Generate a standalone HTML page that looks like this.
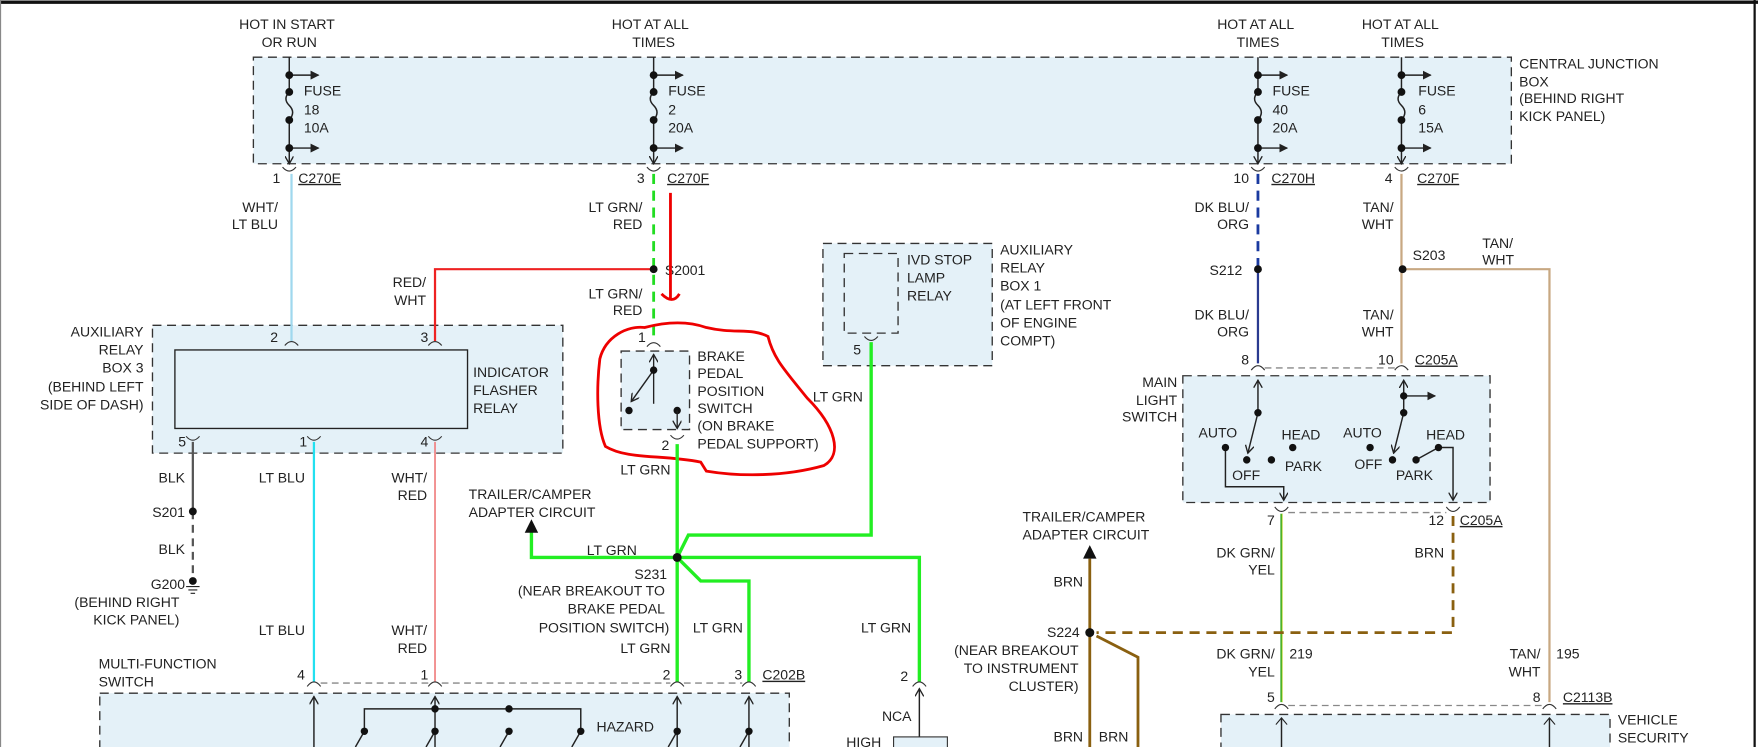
<!DOCTYPE html>
<html><head><meta charset="utf-8"><style>
html,body{margin:0;padding:0;background:#fff;}
svg{display:block;}
text{font-family:"Liberation Sans",sans-serif;font-size:12.5px;fill:#222;}
.r{text-anchor:end;}
</style></head><body>
<svg width="1758" height="747" viewBox="0 0 1568 666" preserveAspectRatio="none" xmlns="http://www.w3.org/2000/svg">
<defs>
<marker id="ah" markerWidth="8" markerHeight="8" refX="7" refY="4" orient="auto" markerUnits="userSpaceOnUse"><path d="M0,0 L7,4 L0,8" fill="none" stroke="#222" stroke-width="1.2"/></marker>
<marker id="af" markerWidth="8" markerHeight="8" refX="7" refY="4" orient="auto" markerUnits="userSpaceOnUse"><path d="M0,0 L8,4 L0,8 Z" fill="#222"/></marker>
</defs>
<rect width="1568" height="666" fill="#fff"/>
<line x1="0" y1="2" x2="1568" y2="2" stroke="#111" stroke-width="3"/>
<line x1="1565" y1="0" x2="1565" y2="666" stroke="#111" stroke-width="2"/>
<line x1="0.5" y1="0" x2="0.5" y2="666" stroke="#888" stroke-width="1"/>

<g fill="#e4f1f8" stroke="#333" stroke-width="1.2" stroke-dasharray="8,5">
<rect x="226" y="51" width="1122" height="95"/>
<rect x="136" y="290" width="366" height="114"/>
<rect x="554" y="313" width="61" height="70"/>
<rect x="734" y="217" width="151" height="109"/>
<rect x="753" y="226" width="48" height="71"/>
<rect x="1055" y="335" width="274" height="113"/>
<rect x="89" y="618" width="615" height="60"/>
<rect x="1089" y="637" width="347" height="40"/>
</g>
<rect x="156" y="312" width="261" height="70" fill="#e4f1f8" stroke="#222" stroke-width="1.2"/>

<text x="256" y="26" text-anchor="middle">HOT IN START</text><text x="258" y="42" text-anchor="middle">OR RUN</text>
<text x="580" y="26" text-anchor="middle">HOT AT ALL</text><text x="583" y="42" text-anchor="middle">TIMES</text>
<text x="1120" y="26" text-anchor="middle">HOT AT ALL</text><text x="1122" y="42" text-anchor="middle">TIMES</text>
<text x="1249" y="26" text-anchor="middle">HOT AT ALL</text><text x="1251" y="42" text-anchor="middle">TIMES</text>
<text x="1355" y="61">CENTRAL JUNCTION</text><text x="1355" y="77">BOX</text><text x="1355" y="92">(BEHIND RIGHT</text><text x="1355" y="108">KICK PANEL)</text>

<g stroke="#222" stroke-width="1.3" fill="none">
<path d="M258,51 V82 M258,107 V146" marker-end="url(#ah)"/>
<path d="M258,82 q-6,6 0,12 q6,6 0,13"/>
<path d="M258,67 H284" marker-end="url(#af)"/><path d="M258,132 H284" marker-end="url(#af)"/>
<path d="M583,51 V82 M583,107 V146" marker-end="url(#ah)"/>
<path d="M583,82 q-6,6 0,12 q6,6 0,13"/>
<path d="M583,67 H609" marker-end="url(#af)"/><path d="M583,132 H609" marker-end="url(#af)"/>
<path d="M1122,51 V82 M1122,107 V146" marker-end="url(#ah)"/>
<path d="M1122,82 q-6,6 0,12 q6,6 0,13"/>
<path d="M1122,67 H1148" marker-end="url(#af)"/><path d="M1122,132 H1148" marker-end="url(#af)"/>
<path d="M1250,51 V82 M1250,107 V146" marker-end="url(#ah)"/>
<path d="M1250,82 q-6,6 0,12 q6,6 0,13"/>
<path d="M1250,67 H1276" marker-end="url(#af)"/><path d="M1250,132 H1276" marker-end="url(#af)"/>
</g>
<g fill="#111">
<circle cx="258" cy="67" r="3.5"/><circle cx="258" cy="82" r="3.5"/><circle cx="258" cy="107" r="3.5"/><circle cx="258" cy="132" r="3.5"/>
<circle cx="583" cy="67" r="3.5"/><circle cx="583" cy="82" r="3.5"/><circle cx="583" cy="107" r="3.5"/><circle cx="583" cy="132" r="3.5"/>
<circle cx="1122" cy="67" r="3.5"/><circle cx="1122" cy="82" r="3.5"/><circle cx="1122" cy="107" r="3.5"/><circle cx="1122" cy="132" r="3.5"/>
<circle cx="1250" cy="67" r="3.5"/><circle cx="1250" cy="82" r="3.5"/><circle cx="1250" cy="107" r="3.5"/><circle cx="1250" cy="132" r="3.5"/>
</g>
<text x="271" y="85">FUSE</text><text x="271" y="102">18</text><text x="271" y="118">10A</text>
<text x="596" y="85">FUSE</text><text x="596" y="102">2</text><text x="596" y="118">20A</text>
<text x="1135" y="85">FUSE</text><text x="1135" y="102">40</text><text x="1135" y="118">20A</text>
<text x="1265" y="85">FUSE</text><text x="1265" y="102">6</text><text x="1265" y="118">15A</text>

<g stroke="#333" stroke-width="1" fill="none">
<path d="M252,149 Q258,156 264,149"/><path d="M577,149 Q583,156 589,149"/><path d="M1116,149 Q1122,156 1128,149"/><path d="M1244,149 Q1250,156 1256,149"/>
</g>
<text x="250" y="163" class="r">1</text><text x="266" y="163" text-decoration="underline">C270E</text>
<text x="575" y="163" class="r">3</text><text x="595" y="163" text-decoration="underline">C270F</text>
<text x="1114" y="163" class="r">10</text><text x="1134" y="163" text-decoration="underline">C270H</text>
<text x="1242" y="163" class="r">4</text><text x="1264" y="163" text-decoration="underline">C270F</text>

<line x1="260" y1="155" x2="260" y2="304" stroke="#9fd8ee" stroke-width="2"/>
<text x="248" y="189" class="r">WHT/</text><text x="248" y="204" class="r">LT BLU</text>
<line x1="583" y1="155" x2="583" y2="300" stroke="#22dd22" stroke-width="2.5" stroke-dasharray="9,6"/>
<text x="573" y="189" class="r">LT GRN/</text><text x="573" y="204" class="r">RED</text>
<text x="593" y="245">S2001</text>
<text x="573" y="266" class="r">LT GRN/</text><text x="573" y="281" class="r">RED</text>
<path d="M583,240 H388 V304" stroke="#ee2222" stroke-width="2" fill="none"/>
<text x="380" y="256" class="r">RED/</text><text x="380" y="272" class="r">WHT</text>
<circle cx="583" cy="240" r="3.5" fill="#111"/>

<path d="M598,172 V268 M590,262 Q600,272 606,262" stroke="#ee0000" stroke-width="2.5" fill="none"/>
<path d="M575,292 C560,290 540,300 535,320 C532,345 532,380 540,398 C560,410 590,405 625,412 L630,420 C660,425 700,425 735,415 C752,405 745,380 720,355 C700,330 690,320 685,300 C670,292 655,298 630,292 C610,285 590,288 575,292 Z" stroke="#ee0000" stroke-width="2.5" fill="none"/>

<g stroke="#333" stroke-width="1" fill="none">
<path d="M254,308 Q260,301 266,308"/><path d="M382,308 Q388,301 394,308"/>
<path d="M166,389 Q172,396 178,389"/><path d="M274,389 Q280,396 286,389"/><path d="M382,389 Q388,396 394,389"/>
</g>
<text x="248" y="305" class="r">2</text><text x="382" y="305" class="r">3</text>
<text x="166" y="398" class="r">5</text><text x="274" y="398" class="r">1</text><text x="382" y="398" class="r">4</text>
<text x="422" y="336">INDICATOR</text><text x="422" y="352">FLASHER</text><text x="422" y="368">RELAY</text>
<text x="128" y="300" class="r">AUXILIARY</text><text x="128" y="316" class="r">RELAY</text><text x="128" y="332" class="r">BOX 3</text><text x="128" y="349" class="r">(BEHIND LEFT</text><text x="128" y="365" class="r">SIDE OF DASH)</text>

<line x1="172" y1="394" x2="172" y2="456" stroke="#555" stroke-width="2"/>
<line x1="172" y1="456" x2="172" y2="516" stroke="#555" stroke-width="2" stroke-dasharray="7,5"/>
<circle cx="172" cy="456" r="3.5" fill="#111"/><circle cx="172" cy="518" r="3.5" fill="#111"/>
<path d="M166,523 H178 M168,526 H176 M170,529 H174" stroke="#222" stroke-width="1"/>
<text x="165" y="430" class="r">BLK</text><text x="165" y="461" class="r">S201</text><text x="165" y="494" class="r">BLK</text>
<text x="165" y="525" class="r">G200</text><text x="160" y="541" class="r">(BEHIND RIGHT</text><text x="160" y="557" class="r">KICK PANEL)</text>
<line x1="280" y1="394" x2="280" y2="608" stroke="#22e0f0" stroke-width="2"/>
<line x1="388" y1="394" x2="388" y2="608" stroke="#f08080" stroke-width="1.5"/>
<text x="272" y="430" class="r">LT BLU</text><text x="381" y="430" class="r">WHT/</text><text x="381" y="446" class="r">RED</text>
<text x="272" y="566" class="r">LT BLU</text><text x="381" y="566" class="r">WHT/</text><text x="381" y="582" class="r">RED</text>

<path d="M577,309 Q583,302 589,309" stroke="#333" fill="none"/>
<text x="576" y="305" class="r">1</text>
<path d="M583,360 V316" stroke="#222" stroke-width="1.2" marker-end="url(#ah)"/>
<path d="M583,330 L563,358" stroke="#222" stroke-width="1.3" marker-end="url(#ah)"/>
<circle cx="583" cy="330" r="3.3" fill="#111"/><circle cx="561" cy="366" r="3.3" fill="#111"/><circle cx="604" cy="366" r="3.3" fill="#111"/>
<path d="M604,366 V382" stroke="#222" stroke-width="1.2" marker-end="url(#ah)"/>
<path d="M598,388 Q604,395 610,388" stroke="#333" fill="none"/>
<text x="597" y="401" class="r">2</text>
<text x="622" y="322">BRAKE</text><text x="622" y="337">PEDAL</text><text x="622" y="353">POSITION</text><text x="622" y="368">SWITCH</text><text x="622" y="384">(ON BRAKE</text><text x="622" y="400">PEDAL SUPPORT)</text>

<text x="809" y="236">IVD STOP</text><text x="809" y="252">LAMP</text><text x="809" y="268">RELAY</text>
<text x="892" y="227">AUXILIARY</text><text x="892" y="243">RELAY</text><text x="892" y="259">BOX 1</text><text x="892" y="276">(AT LEFT FRONT</text><text x="892" y="292">OF ENGINE</text><text x="892" y="308">COMPT)</text>
<path d="M771,300 Q777,307 783,300" stroke="#333" fill="none"/>
<text x="768" y="316" class="r">5</text>

<g stroke="#22ee22" stroke-width="3" fill="none">
<path d="M604,396 V608"/>
<path d="M604,497 H474 V474"/>
<path d="M604,497 L614,477 H777 V305"/>
<path d="M604,497 H820 V608"/>
<path d="M604,497 L625,518 H668 V608"/>
</g>
<path d="M474,463 l-6,12 h12 z" fill="#111"/>
<circle cx="604" cy="497" r="4" fill="#111"/>
<text x="725" y="358">LT GRN</text>
<text x="598" y="423" class="r">LT GRN</text>
<text x="418" y="445">TRAILER/CAMPER</text><text x="418" y="461">ADAPTER CIRCUIT</text>
<text x="568" y="495" class="r">LT GRN</text>
<text x="595" y="516" class="r">S231</text>
<text x="593" y="531" class="r">(NEAR BREAKOUT TO</text><text x="593" y="547" class="r">BRAKE PEDAL</text><text x="597" y="564" class="r">POSITION SWITCH)</text>
<text x="598" y="582" class="r">LT GRN</text>
<text x="618" y="564">LT GRN</text><text x="768" y="564">LT GRN</text>

<path d="M286,609 H382 M394,609 H598 M610,609 H662" stroke="#888" stroke-width="1.2" stroke-dasharray="6,4"/>
<g stroke="#333" stroke-width="1" fill="none">
<path d="M274,612 Q280,604 286,612"/><path d="M382,612 Q388,604 394,612"/><path d="M598,612 Q604,604 610,612"/><path d="M662,612 Q668,604 674,612"/><path d="M814,612 Q820,604 826,612"/>
</g>
<text x="272" y="606" class="r">4</text><text x="382" y="606" class="r">1</text><text x="598" y="606" class="r">2</text><text x="662" y="606" class="r">3</text>
<text x="680" y="606" text-decoration="underline">C202B</text>
<text x="88" y="596">MULTI-FUNCTION</text><text x="88" y="612">SWITCH</text>
<text x="810" y="607" class="r">2</text><text x="813" y="643" class="r">NCA</text><text x="786" y="666" class="r">HIGH</text>
<path d="M820,666 V614" stroke="#222" stroke-width="1.3" marker-end="url(#ah)"/>
<rect x="797" y="657" width="48" height="14" fill="#e4f1f8" stroke="#333"/>

<g stroke="#222" stroke-width="1.3" fill="none">
<path d="M280,666 V621" marker-end="url(#ah)"/><path d="M388,666 V621" marker-end="url(#ah)"/>
<path d="M604,666 V621" marker-end="url(#ah)"/><path d="M668,666 V621" marker-end="url(#ah)"/>
<path d="M325,652 V632 H518 V652"/>
<path d="M325,652 l-8,14 M388,652 l-8,14 M454,652 l-8,14 M518,652 l-8,14 M604,652 l-8,14 M668,652 l-8,14"/>
</g>
<g fill="#111"><circle cx="388" cy="632" r="3.3"/><circle cx="454" cy="632" r="3.3"/>
<circle cx="325" cy="652" r="3.3"/><circle cx="388" cy="652" r="3.3"/><circle cx="454" cy="652" r="3.3"/><circle cx="518" cy="652" r="3.3"/><circle cx="604" cy="652" r="3.3"/><circle cx="668" cy="652" r="3.3"/></g>
<text x="532" y="652">HAZARD</text>

<line x1="1122" y1="155" x2="1122" y2="240" stroke="#1a3aa0" stroke-width="2.5" stroke-dasharray="9,6"/>
<line x1="1122" y1="240" x2="1122" y2="324" stroke="#2a3a90" stroke-width="2"/>
<circle cx="1122" cy="240" r="3.5" fill="#111"/>
<text x="1114" y="189" class="r">DK BLU/</text><text x="1114" y="204" class="r">ORG</text>
<text x="1108" y="245" class="r">S212</text>
<text x="1114" y="285" class="r">DK BLU/</text><text x="1114" y="300" class="r">ORG</text>
<path d="M1250,155 V324 M1250,240 H1382 V626" stroke="#c8a882" stroke-width="2" fill="none"/>
<circle cx="1251" cy="240" r="3.5" fill="#111"/>
<text x="1243" y="189" class="r">TAN/</text><text x="1243" y="204" class="r">WHT</text>
<text x="1260" y="232">S203</text><text x="1322" y="221">TAN/</text><text x="1322" y="236">WHT</text>
<text x="1243" y="285" class="r">TAN/</text><text x="1243" y="300" class="r">WHT</text>

<path d="M1128,328 H1244" stroke="#888" stroke-width="1.2" stroke-dasharray="6,4"/>
<g stroke="#333" stroke-width="1" fill="none"><path d="M1116,330 Q1122,322 1128,330"/><path d="M1244,330 Q1250,322 1256,330"/></g>
<text x="1114" y="325" class="r">8</text><text x="1243" y="325" class="r">10</text>
<text x="1262" y="325" text-decoration="underline">C205A</text>
<text x="1050" y="345" class="r">MAIN</text><text x="1050" y="361" class="r">LIGHT</text><text x="1050" y="376" class="r">SWITCH</text>

<g stroke="#222" stroke-width="1.3" fill="none">
<path d="M1122,368 V339" marker-end="url(#ah)"/>
<path d="M1122,368 L1113,404" marker-end="url(#ah)"/>
<path d="M1093,399 V434 H1145 V446" marker-end="url(#ah)"/>
<path d="M1252,368 V339" marker-end="url(#ah)"/>
<path d="M1252,353 H1280" marker-end="url(#af)"/>
<path d="M1252,368 L1243,404" marker-end="url(#ah)"/>
<path d="M1263,410 L1283,399 H1296 V446" marker-end="url(#ah)"/>
</g>
<g fill="#111">
<circle cx="1122" cy="368" r="3.3"/><circle cx="1112" cy="410" r="3.3"/><circle cx="1093" cy="399" r="3.3"/><circle cx="1153" cy="399" r="3.3"/><circle cx="1134" cy="410" r="3.3"/>
<circle cx="1252" cy="353" r="3.3"/><circle cx="1252" cy="368" r="3.3"/><circle cx="1242" cy="410" r="3.3"/><circle cx="1222" cy="399" r="3.3"/><circle cx="1263" cy="410" r="3.3"/><circle cx="1283" cy="399" r="3.3"/>
</g>
<text x="1069" y="390">AUTO</text><text x="1143" y="392">HEAD</text><text x="1146" y="420">PARK</text><text x="1099" y="428">OFF</text>
<text x="1198" y="390">AUTO</text><text x="1272" y="392">HEAD</text><text x="1208" y="418">OFF</text><text x="1245" y="428">PARK</text>

<path d="M1149,457 H1290" stroke="#888" stroke-width="1.2" stroke-dasharray="6,4"/>
<g stroke="#333" stroke-width="1" fill="none"><path d="M1137,452 Q1143,460 1149,452"/><path d="M1290,452 Q1296,460 1302,452"/></g>
<text x="1137" y="468" class="r">7</text><text x="1288" y="468" class="r">12</text>
<text x="1302" y="468" text-decoration="underline">C205A</text>

<line x1="1143" y1="458" x2="1143" y2="626" stroke="#33aa22" stroke-width="2"/>
<line x1="1143.6" y1="458" x2="1143.6" y2="626" stroke="#dddd33" stroke-width="0.6"/>
<text x="1137" y="497" class="r">DK GRN/</text><text x="1137" y="512" class="r">YEL</text>
<text x="1137" y="587" class="r">DK GRN/</text><text x="1137" y="603" class="r">YEL</text><text x="1150" y="587">219</text>
<path d="M1296,460 V564 H978" stroke="#8a6010" stroke-width="2.5" stroke-dasharray="9,6" fill="none"/>
<text x="1288" y="497" class="r">BRN</text>
<path d="M972,666 V498 M978,567 L1015,586 V666" stroke="#8a6010" stroke-width="2.5" fill="none"/>
<path d="M972,486 l-6,12 h12 z" fill="#111"/>
<circle cx="972" cy="564" r="4" fill="#111"/>
<text x="912" y="465">TRAILER/CAMPER</text><text x="912" y="481">ADAPTER CIRCUIT</text>
<text x="966" y="523" class="r">BRN</text><text x="963" y="568" class="r">S224</text>
<text x="962" y="584" class="r">(NEAR BREAKOUT</text><text x="962" y="600" class="r">TO INSTRUMENT</text><text x="962" y="616" class="r">CLUSTER)</text>
<text x="966" y="661" class="r">BRN</text><text x="980" y="661">BRN</text>
<text x="1374" y="587" class="r">TAN/</text><text x="1374" y="603" class="r">WHT</text><text x="1388" y="587">195</text>

<path d="M1149,629 H1376" stroke="#888" stroke-width="1.2" stroke-dasharray="6,4"/>
<g stroke="#333" stroke-width="1" fill="none"><path d="M1137,632 Q1143,624 1149,632"/><path d="M1376,632 Q1382,624 1388,632"/></g>
<text x="1137" y="626" class="r">5</text><text x="1374" y="626" class="r">8</text>
<text x="1394" y="626" text-decoration="underline">C2113B</text>
<path d="M1143,666 V640 M1382,666 V640" stroke="#222" stroke-width="1.3"/>
<path d="M1138,646 L1143,640 L1148,646 M1377,646 L1382,640 L1387,646" stroke="#222" fill="none"/>
<text x="1443" y="646">VEHICLE</text><text x="1443" y="662">SECURITY</text>
</svg>
</body></html>
